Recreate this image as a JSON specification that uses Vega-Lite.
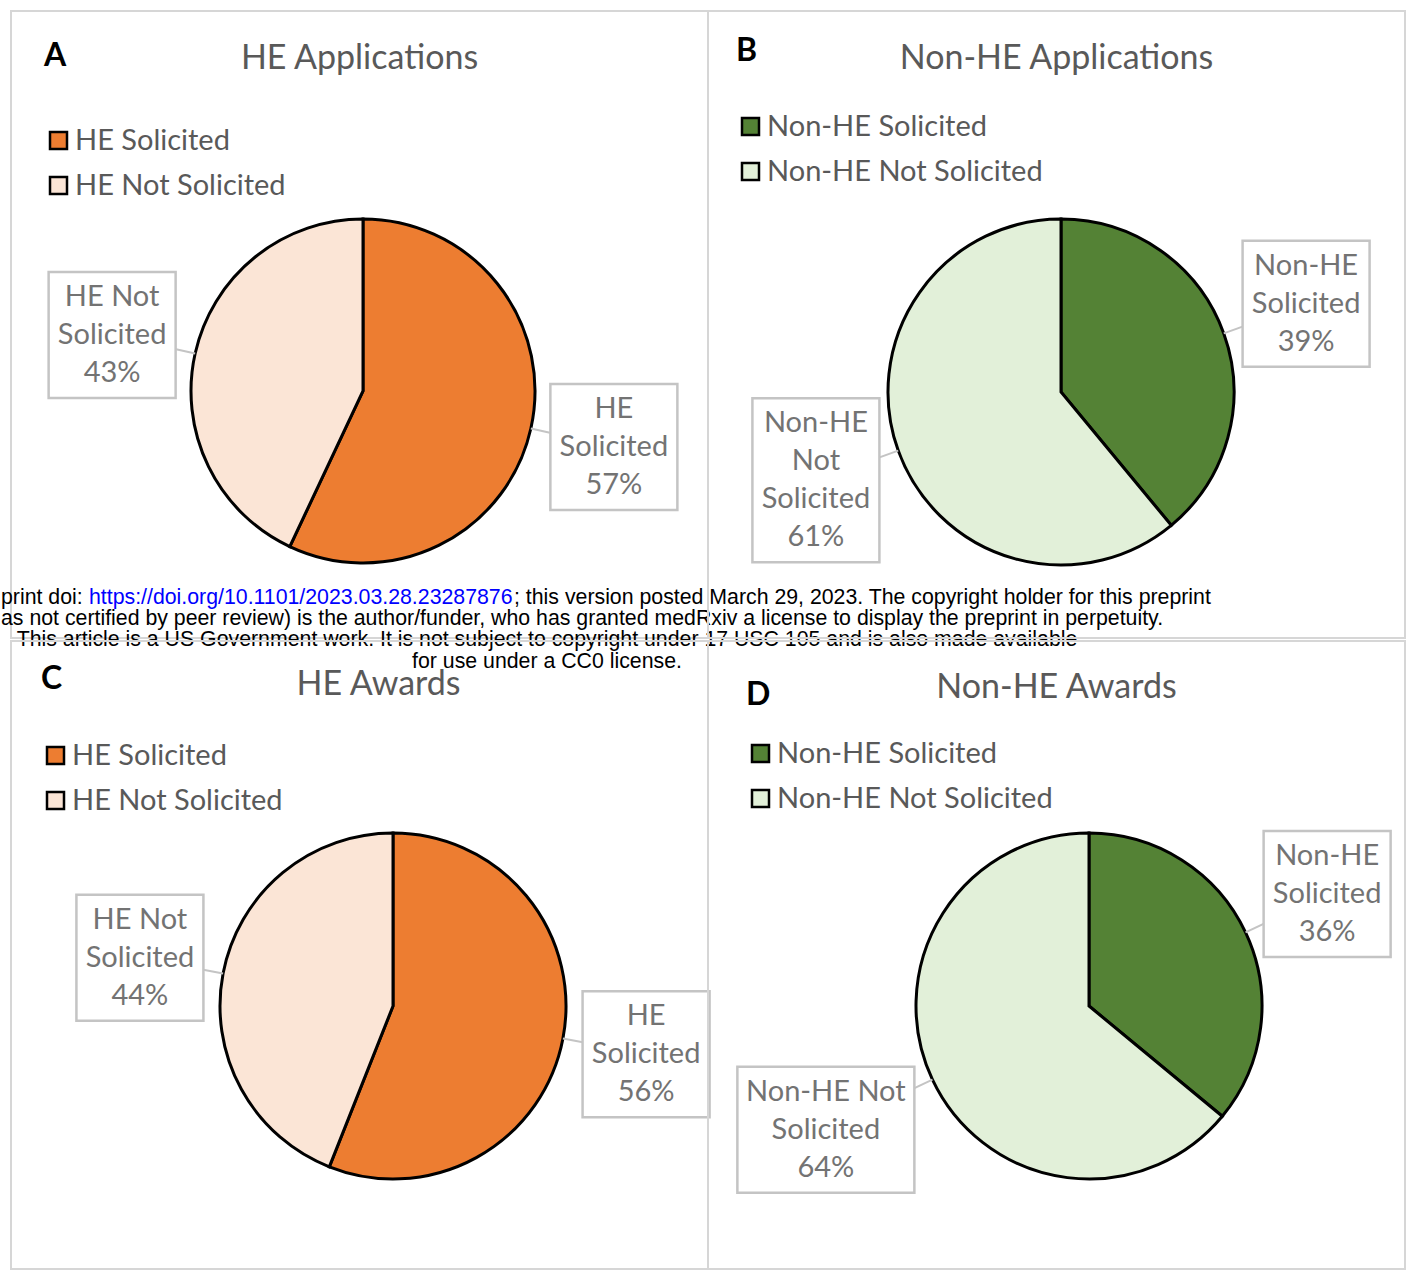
{
  "$schema": "https://vega.github.io/schema/vega-lite/v6.json",
  "padding": {"left": 0, "top": 10, "right": 0, "bottom": 0},
  "background": "white",
  "datasets": {
    "pies": [
      {"panel": "A", "category": "HE Solicited", "value": 57, "lbl": "HE\nSolicited"},
      {"panel": "A", "category": "HE Not Solicited", "value": 43, "lbl": "HE Not\nSolicited"},
      {"panel": "B", "category": "Non-HE Solicited", "value": 39, "lbl": "Non-HE\nSolicited"},
      {"panel": "B", "category": "Non-HE Not Solicited", "value": 61, "lbl": "Non-HE\nNot\nSolicited"},
      {"panel": "C", "category": "HE Solicited", "value": 56, "lbl": "HE\nSolicited"},
      {"panel": "C", "category": "HE Not Solicited", "value": 44, "lbl": "HE Not\nSolicited"},
      {"panel": "D", "category": "Non-HE Solicited", "value": 36, "lbl": "Non-HE\nSolicited"},
      {"panel": "D", "category": "Non-HE Not Solicited", "value": 64, "lbl": "Non-HE Not\nSolicited"}
    ]
  },
  "columns": 2,
  "spacing": {"row": 3, "column": 0},
  "bounds": "flush",
  "concat": [
    {
      "width": 697, "height": 627,
      "title": {"text": "HE Applications", "offset": -65},
      "data": {"name": "pies"},
      "transform": [
        {"filter": "datum.panel === 'A'"},
        {"stack": "value", "groupby": ["panel"], "sort": [{"field": "category", "order": "descending"}], "as": ["v0", "v1"]},
        {"calculate": "PI * (datum.v0 + datum.v1) / 100", "as": "ang"},
        {"calculate": "indexof(datum.lbl, '\\n') > 9 ? 177 : 127", "as": "bw"},
        {"calculate": "38 * length(split(datum.lbl, '\\n')) + 50", "as": "bh"},
        {"calculate": "172 + 20 + min(datum.bw / 2 / max(abs(sin(datum.ang)), 0.01), datum.bh / 2 / max(abs(cos(datum.ang)), 0.01))", "as": "dist"},
        {"calculate": "datum.dist * sin(datum.ang)", "as": "lx"},
        {"calculate": "-datum.dist * cos(datum.ang)", "as": "ly"},
        {"calculate": "datum.ly - 19 * length(split(datum.lbl, '\\n'))", "as": "ty"},
        {"calculate": "172 * sin(datum.ang)", "as": "ex"},
        {"calculate": "-172 * cos(datum.ang)", "as": "ey"},
        {"calculate": "datum.lx - datum.bw / 2", "as": "bx1"},
        {"calculate": "datum.lx + datum.bw / 2", "as": "bx2"},
        {"calculate": "datum.ly - datum.bh / 2", "as": "by1"},
        {"calculate": "datum.ly + datum.bh / 2", "as": "by2"},
        {"calculate": "datum.lbl + '\\n' + datum.value + '%'", "as": "txt"}
      ],
      "layer": [
        {
          "mark": {"type": "arc", "radius": 172, "stroke": "black", "strokeWidth": 3},
          "encoding": {
            "x": {"datum": 0, "type": "quantitative", "scale": {"domain": [-352, 345], "nice": false, "zero": false}, "axis": null},
            "y": {"datum": 0, "type": "quantitative", "scale": {"domain": [-380, 247], "nice": false, "zero": false, "reverse": true}, "axis": null},
            "theta": {"field": "v0", "type": "quantitative", "scale": {"domain": [0, 100], "range": [0, 6.283185307]}},
            "theta2": {"field": "v1"},
            "color": {
              "field": "category", "type": "nominal",
              "scale": {"domain": ["HE Solicited", "HE Not Solicited"], "range": ["#ED7D31", "#FBE5D6"]},
              "legend": {"title": "A", "orient": "none", "legendX": 33, "legendY": 30, "titlePadding": 53}
            }
          }
        },
        {
          "mark": {"type": "rule", "color": "#c4c4c4", "strokeWidth": 2},
          "encoding": {
            "x": {"field": "ex", "type": "quantitative", "scale": {"domain": [-352, 345], "nice": false, "zero": false}, "axis": null},
            "y": {"field": "ey", "type": "quantitative", "scale": {"domain": [-380, 247], "nice": false, "zero": false, "reverse": true}, "axis": null},
            "x2": {"field": "lx"},
            "y2": {"field": "ly"}
          }
        },
        {
          "mark": {"type": "rect", "fill": "white", "stroke": "#c4c4c4", "strokeWidth": 2.5},
          "encoding": {
            "x": {"field": "bx1", "type": "quantitative", "scale": {"domain": [-352, 345], "nice": false, "zero": false}, "axis": null},
            "y": {"field": "by1", "type": "quantitative", "scale": {"domain": [-380, 247], "nice": false, "zero": false, "reverse": true}, "axis": null},
            "x2": {"field": "bx2"},
            "y2": {"field": "by2"}
          }
        },
        {
          "mark": {"type": "text", "align": "center", "baseline": "middle", "lineBreak": "\n", "lineHeight": 38, "font": "Lato", "fontSize": 29, "color": "#737373"},
          "encoding": {
            "x": {"field": "lx", "type": "quantitative", "scale": {"domain": [-352, 345], "nice": false, "zero": false}, "axis": null},
            "y": {"field": "ty", "type": "quantitative", "scale": {"domain": [-380, 247], "nice": false, "zero": false, "reverse": true}, "axis": null},
            "text": {"field": "txt"}
          }
        },
        {
          "data": {"values": [{}]},
          "mark": {"type": "text", "align": "left", "baseline": "middle", "font": "Liberation Sans", "fontSize": 21.3, "color": "black"},
          "encoding": {
            "x": {"datum": -362, "type": "quantitative", "scale": {"domain": [-352, 345], "nice": false, "zero": false}, "axis": null},
            "y": {"datum": 207, "type": "quantitative", "scale": {"domain": [-380, 247], "nice": false, "zero": false, "reverse": true}, "axis": null},
            "text": {"value": "print doi: "}
          }
        },
        {
          "data": {"values": [{}]},
          "mark": {"type": "text", "align": "left", "baseline": "middle", "font": "Liberation Sans", "fontSize": 21.3, "color": "#0000ff"},
          "encoding": {
            "x": {"datum": -274, "type": "quantitative", "scale": {"domain": [-352, 345], "nice": false, "zero": false}, "axis": null},
            "y": {"datum": 207, "type": "quantitative", "scale": {"domain": [-380, 247], "nice": false, "zero": false, "reverse": true}, "axis": null},
            "text": {"value": "https://doi.org/10.1101/2023.03.28.23287876"}
          }
        },
        {
          "data": {"values": [{}]},
          "mark": {"type": "text", "align": "left", "baseline": "middle", "font": "Liberation Sans", "fontSize": 21.3, "color": "black"},
          "encoding": {
            "x": {"datum": 151, "type": "quantitative", "scale": {"domain": [-352, 345], "nice": false, "zero": false}, "axis": null},
            "y": {"datum": 207, "type": "quantitative", "scale": {"domain": [-380, 247], "nice": false, "zero": false, "reverse": true}, "axis": null},
            "text": {"value": "; this version posted March 29, 2023. The copyright holder for this preprint"}
          }
        },
        {
          "data": {"values": [{}]},
          "mark": {"type": "text", "align": "left", "baseline": "middle", "font": "Liberation Sans", "fontSize": 21.3, "color": "black"},
          "encoding": {
            "x": {"datum": -362, "type": "quantitative", "scale": {"domain": [-352, 345], "nice": false, "zero": false}, "axis": null},
            "y": {"datum": 228, "type": "quantitative", "scale": {"domain": [-380, 247], "nice": false, "zero": false, "reverse": true}, "axis": null},
            "text": {"value": "as not certified by peer review) is the author/funder, who has granted medRxiv a license to display the preprint in perpetuity."}
          }
        },
        {
          "data": {"values": [{}]},
          "mark": {"type": "text", "align": "center", "baseline": "middle", "lineBreak": "\n", "lineHeight": 22, "font": "Liberation Sans", "fontSize": 21.3, "color": "black"},
          "encoding": {
            "x": {"datum": 184, "type": "quantitative", "scale": {"domain": [-352, 345], "nice": false, "zero": false}, "axis": null},
            "y": {"datum": 249, "type": "quantitative", "scale": {"domain": [-380, 247], "nice": false, "zero": false, "reverse": true}, "axis": null},
            "text": {"value": "This article is a US Government work. It is not subject to copyright under 17 USC 105 and is also made available\nfor use under a CC0 license."}
          }
        }
      ]
    },
    {
      "width": 697, "height": 627,
      "title": {"text": "Non-HE Applications", "offset": -65},
      "data": {"name": "pies"},
      "transform": [
        {"filter": "datum.panel === 'B'"},
        {"stack": "value", "groupby": ["panel"], "sort": [{"field": "category", "order": "descending"}], "as": ["v0", "v1"]},
        {"calculate": "PI * (datum.v0 + datum.v1) / 100", "as": "ang"},
        {"calculate": "indexof(datum.lbl, '\\n') > 9 ? 177 : 127", "as": "bw"},
        {"calculate": "38 * length(split(datum.lbl, '\\n')) + 50", "as": "bh"},
        {"calculate": "173 + 20 + min(datum.bw / 2 / max(abs(sin(datum.ang)), 0.01), datum.bh / 2 / max(abs(cos(datum.ang)), 0.01))", "as": "dist"},
        {"calculate": "datum.dist * sin(datum.ang)", "as": "lx"},
        {"calculate": "-datum.dist * cos(datum.ang)", "as": "ly"},
        {"calculate": "datum.ly - 19 * length(split(datum.lbl, '\\n'))", "as": "ty"},
        {"calculate": "173 * sin(datum.ang)", "as": "ex"},
        {"calculate": "-173 * cos(datum.ang)", "as": "ey"},
        {"calculate": "datum.lx - datum.bw / 2", "as": "bx1"},
        {"calculate": "datum.lx + datum.bw / 2", "as": "bx2"},
        {"calculate": "datum.ly - datum.bh / 2", "as": "by1"},
        {"calculate": "datum.ly + datum.bh / 2", "as": "by2"},
        {"calculate": "datum.lbl + '\\n' + datum.value + '%'", "as": "txt"}
      ],
      "layer": [
        {
          "mark": {"type": "arc", "radius": 173, "stroke": "black", "strokeWidth": 3},
          "encoding": {
            "x": {"datum": 0, "type": "quantitative", "scale": {"domain": [-353, 344], "nice": false, "zero": false}, "axis": null},
            "y": {"datum": 0, "type": "quantitative", "scale": {"domain": [-381, 246], "nice": false, "zero": false, "reverse": true}, "axis": null},
            "theta": {"field": "v0", "type": "quantitative", "scale": {"domain": [0, 100], "range": [0, 6.283185307]}},
            "theta2": {"field": "v1"},
            "color": {
              "field": "category", "type": "nominal",
              "scale": {"domain": ["Non-HE Solicited", "Non-HE Not Solicited"], "range": ["#548235", "#E2F0D9"]},
              "legend": {"title": "B", "orient": "none", "legendX": 28, "legendY": 25, "titlePadding": 44}
            }
          }
        },
        {
          "mark": {"type": "rule", "color": "#c4c4c4", "strokeWidth": 2},
          "encoding": {
            "x": {"field": "ex", "type": "quantitative", "scale": {"domain": [-353, 344], "nice": false, "zero": false}, "axis": null},
            "y": {"field": "ey", "type": "quantitative", "scale": {"domain": [-381, 246], "nice": false, "zero": false, "reverse": true}, "axis": null},
            "x2": {"field": "lx"},
            "y2": {"field": "ly"}
          }
        },
        {
          "mark": {"type": "rect", "fill": "white", "stroke": "#c4c4c4", "strokeWidth": 2.5},
          "encoding": {
            "x": {"field": "bx1", "type": "quantitative", "scale": {"domain": [-353, 344], "nice": false, "zero": false}, "axis": null},
            "y": {"field": "by1", "type": "quantitative", "scale": {"domain": [-381, 246], "nice": false, "zero": false, "reverse": true}, "axis": null},
            "x2": {"field": "bx2"},
            "y2": {"field": "by2"}
          }
        },
        {
          "mark": {"type": "text", "align": "center", "baseline": "middle", "lineBreak": "\n", "lineHeight": 38, "font": "Lato", "fontSize": 29, "color": "#737373"},
          "encoding": {
            "x": {"field": "lx", "type": "quantitative", "scale": {"domain": [-353, 344], "nice": false, "zero": false}, "axis": null},
            "y": {"field": "ty", "type": "quantitative", "scale": {"domain": [-381, 246], "nice": false, "zero": false, "reverse": true}, "axis": null},
            "text": {"field": "txt"}
          }
        }
      ]
    },
    {
      "width": 697, "height": 628,
      "title": {"text": "HE Awards", "offset": -61, "dx": 19},
      "data": {"name": "pies"},
      "transform": [
        {"filter": "datum.panel === 'C'"},
        {"stack": "value", "groupby": ["panel"], "sort": [{"field": "category", "order": "descending"}], "as": ["v0", "v1"]},
        {"calculate": "PI * (datum.v0 + datum.v1) / 100", "as": "ang"},
        {"calculate": "indexof(datum.lbl, '\\n') > 9 ? 177 : 127", "as": "bw"},
        {"calculate": "38 * length(split(datum.lbl, '\\n')) + 50", "as": "bh"},
        {"calculate": "173 + 20 + min(datum.bw / 2 / max(abs(sin(datum.ang)), 0.01), datum.bh / 2 / max(abs(cos(datum.ang)), 0.01))", "as": "dist"},
        {"calculate": "datum.dist * sin(datum.ang)", "as": "lx"},
        {"calculate": "-datum.dist * cos(datum.ang)", "as": "ly"},
        {"calculate": "datum.ly - 19 * length(split(datum.lbl, '\\n'))", "as": "ty"},
        {"calculate": "173 * sin(datum.ang)", "as": "ex"},
        {"calculate": "-173 * cos(datum.ang)", "as": "ey"},
        {"calculate": "datum.lx - datum.bw / 2", "as": "bx1"},
        {"calculate": "datum.lx + datum.bw / 2", "as": "bx2"},
        {"calculate": "datum.ly - datum.bh / 2", "as": "by1"},
        {"calculate": "datum.ly + datum.bh / 2", "as": "by2"},
        {"calculate": "datum.lbl + '\\n' + datum.value + '%'", "as": "txt"}
      ],
      "layer": [
        {
          "mark": {"type": "arc", "radius": 173, "stroke": "black", "strokeWidth": 3},
          "encoding": {
            "x": {"datum": 0, "type": "quantitative", "scale": {"domain": [-382, 315], "nice": false, "zero": false}, "axis": null},
            "y": {"datum": 0, "type": "quantitative", "scale": {"domain": [-365, 263], "nice": false, "zero": false, "reverse": true}, "axis": null},
            "theta": {"field": "v0", "type": "quantitative", "scale": {"domain": [0, 100], "range": [0, 6.283185307]}},
            "theta2": {"field": "v1"},
            "color": {
              "field": "category", "type": "nominal",
              "scale": {"domain": ["HE Solicited", "HE Not Solicited"], "range": ["#ED7D31", "#FBE5D6"]},
              "legend": {"title": "C", "orient": "none", "legendX": 30, "legendY": 23, "titlePadding": 45}
            }
          }
        },
        {
          "mark": {"type": "rule", "color": "#c4c4c4", "strokeWidth": 2},
          "encoding": {
            "x": {"field": "ex", "type": "quantitative", "scale": {"domain": [-382, 315], "nice": false, "zero": false}, "axis": null},
            "y": {"field": "ey", "type": "quantitative", "scale": {"domain": [-365, 263], "nice": false, "zero": false, "reverse": true}, "axis": null},
            "x2": {"field": "lx"},
            "y2": {"field": "ly"}
          }
        },
        {
          "mark": {"type": "rect", "fill": "white", "stroke": "#c4c4c4", "strokeWidth": 2.5},
          "encoding": {
            "x": {"field": "bx1", "type": "quantitative", "scale": {"domain": [-382, 315], "nice": false, "zero": false}, "axis": null},
            "y": {"field": "by1", "type": "quantitative", "scale": {"domain": [-365, 263], "nice": false, "zero": false, "reverse": true}, "axis": null},
            "x2": {"field": "bx2"},
            "y2": {"field": "by2"}
          }
        },
        {
          "mark": {"type": "text", "align": "center", "baseline": "middle", "lineBreak": "\n", "lineHeight": 38, "font": "Lato", "fontSize": 29, "color": "#737373"},
          "encoding": {
            "x": {"field": "lx", "type": "quantitative", "scale": {"domain": [-382, 315], "nice": false, "zero": false}, "axis": null},
            "y": {"field": "ty", "type": "quantitative", "scale": {"domain": [-365, 263], "nice": false, "zero": false, "reverse": true}, "axis": null},
            "text": {"field": "txt"}
          }
        }
      ]
    },
    {
      "width": 697, "height": 628,
      "title": {"text": "Non-HE Awards", "offset": -64},
      "data": {"name": "pies"},
      "transform": [
        {"filter": "datum.panel === 'D'"},
        {"stack": "value", "groupby": ["panel"], "sort": [{"field": "category", "order": "descending"}], "as": ["v0", "v1"]},
        {"calculate": "PI * (datum.v0 + datum.v1) / 100", "as": "ang"},
        {"calculate": "indexof(datum.lbl, '\\n') > 9 ? 177 : 127", "as": "bw"},
        {"calculate": "38 * length(split(datum.lbl, '\\n')) + 50", "as": "bh"},
        {"calculate": "173 + 20 + min(datum.bw / 2 / max(abs(sin(datum.ang)), 0.01), datum.bh / 2 / max(abs(cos(datum.ang)), 0.01))", "as": "dist"},
        {"calculate": "datum.dist * sin(datum.ang)", "as": "lx"},
        {"calculate": "-datum.dist * cos(datum.ang)", "as": "ly"},
        {"calculate": "datum.ly - 19 * length(split(datum.lbl, '\\n'))", "as": "ty"},
        {"calculate": "173 * sin(datum.ang)", "as": "ex"},
        {"calculate": "-173 * cos(datum.ang)", "as": "ey"},
        {"calculate": "datum.lx - datum.bw / 2", "as": "bx1"},
        {"calculate": "datum.lx + datum.bw / 2", "as": "bx2"},
        {"calculate": "datum.ly - datum.bh / 2", "as": "by1"},
        {"calculate": "datum.ly + datum.bh / 2", "as": "by2"},
        {"calculate": "datum.lbl + '\\n' + datum.value + '%'", "as": "txt"}
      ],
      "layer": [
        {
          "mark": {"type": "arc", "radius": 173, "stroke": "black", "strokeWidth": 3},
          "encoding": {
            "x": {"datum": 0, "type": "quantitative", "scale": {"domain": [-381, 316], "nice": false, "zero": false}, "axis": null},
            "y": {"datum": 0, "type": "quantitative", "scale": {"domain": [-365, 263], "nice": false, "zero": false, "reverse": true}, "axis": null},
            "theta": {"field": "v0", "type": "quantitative", "scale": {"domain": [0, 100], "range": [0, 6.283185307]}},
            "theta2": {"field": "v1"},
            "color": {
              "field": "category", "type": "nominal",
              "scale": {"domain": ["Non-HE Solicited", "Non-HE Not Solicited"], "range": ["#548235", "#E2F0D9"]},
              "legend": {"title": "D", "orient": "none", "legendX": 38, "legendY": 39, "titlePadding": 27}
            }
          }
        },
        {
          "mark": {"type": "rule", "color": "#c4c4c4", "strokeWidth": 2},
          "encoding": {
            "x": {"field": "ex", "type": "quantitative", "scale": {"domain": [-381, 316], "nice": false, "zero": false}, "axis": null},
            "y": {"field": "ey", "type": "quantitative", "scale": {"domain": [-365, 263], "nice": false, "zero": false, "reverse": true}, "axis": null},
            "x2": {"field": "lx"},
            "y2": {"field": "ly"}
          }
        },
        {
          "mark": {"type": "rect", "fill": "white", "stroke": "#c4c4c4", "strokeWidth": 2.5},
          "encoding": {
            "x": {"field": "bx1", "type": "quantitative", "scale": {"domain": [-381, 316], "nice": false, "zero": false}, "axis": null},
            "y": {"field": "by1", "type": "quantitative", "scale": {"domain": [-365, 263], "nice": false, "zero": false, "reverse": true}, "axis": null},
            "x2": {"field": "bx2"},
            "y2": {"field": "by2"}
          }
        },
        {
          "mark": {"type": "text", "align": "center", "baseline": "middle", "lineBreak": "\n", "lineHeight": 38, "font": "Lato", "fontSize": 29, "color": "#737373"},
          "encoding": {
            "x": {"field": "lx", "type": "quantitative", "scale": {"domain": [-381, 316], "nice": false, "zero": false}, "axis": null},
            "y": {"field": "ty", "type": "quantitative", "scale": {"domain": [-365, 263], "nice": false, "zero": false, "reverse": true}, "axis": null},
            "text": {"field": "txt"}
          }
        }
      ]
    }
  ],
  "resolve": {"scale": {"color": "independent"}, "legend": {"color": "independent"}},
  "config": {
    "view": {"stroke": "#d6d6d6", "strokeWidth": 2},
    "title": {"font": "Lato", "fontSize": 34, "fontWeight": "normal", "color": "#595959", "anchor": "middle", "frame": "group"},
    "legend": {
      "symbolType": "square", "symbolSize": 289, "symbolStrokeColor": "black", "symbolStrokeWidth": 2.5,
      "labelFont": "Lato", "labelFontSize": 29, "labelColor": "#595959", "labelOffset": 2, "labelLimit": 500,
      "titleFont": "Lato", "titleFontSize": 32, "titleFontWeight": "bold", "titleColor": "black",
      "rowPadding": 15
    }
  }
}
